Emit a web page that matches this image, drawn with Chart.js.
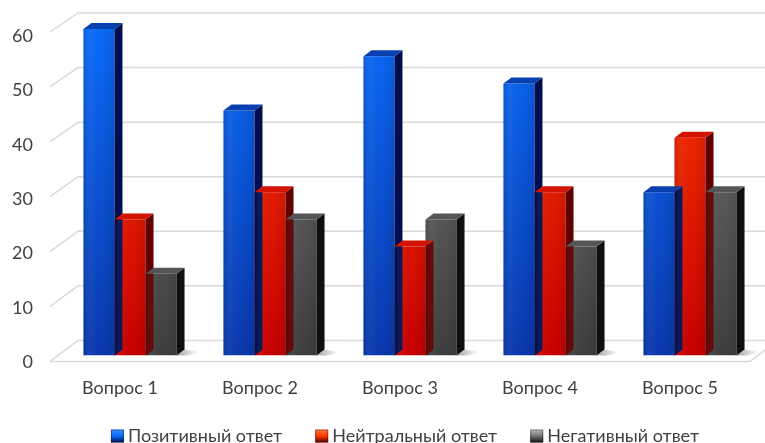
<!DOCTYPE html>
<html>
<head>
<meta charset="utf-8">
<script src="https://cdn.jsdelivr.net/npm/chart.js@4/dist/chart.umd.min.js"></script>
<style>
html,body{margin:0;padding:0;background:#fff;overflow:hidden;}
#box{width:765px;height:443px;position:relative;}
</style>
</head>
<body>
<div id="box"><canvas id="c"></canvas></div>
<script>
const categories = ["Вопрос 1", "Вопрос 2", "Вопрос 3", "Вопрос 4", "Вопрос 5"];
const seriesNames = ["Позитивный ответ", "Нейтральный ответ", "Негативный ответ"];
const positive = [60, 45, 55, 50, 30];
const neutral = [25, 30, 20, 30, 40];
const negative = [15, 25, 25, 20, 30];
const yTicks = [0, 10, 20, 30, 40, 50, 60];

const palettes = [
  {top:'#0a6af8', bot:'#0a38ac', side:'#000a55', cap:'#0a3fb0', light:'#3a90ff', dark:'#00124d'},
  {top:'#ff3800', bot:'#c80000', side:'#6a0000', cap:'#d41200', light:'#ff7a40', dark:'#5a0000'},
  {top:'#757575', bot:'#3e3e3e', side:'#0d0d0d', cap:'#555555', light:'#bcbcbc', dark:'#111111'}
];
const DX = 8, DY = 6;
const FONT = '18px Lato';

function frontGrad(ctx, area, p){
  if(!area) return p.top;
  const g = ctx.createLinearGradient(0, area.top, 0, area.bottom);
  g.addColorStop(0, p.top);
  g.addColorStop(1, p.bot);
  return g;
}

function legendBox(ctx, x, y, p){
  const g = ctx.createLinearGradient(0, y, 0, y + 13);
  g.addColorStop(0, p.light);
  g.addColorStop(0.5, p.top);
  g.addColorStop(1, p.dark);
  ctx.fillStyle = g;
  ctx.fillRect(x, y, 13, 13);
  ctx.strokeStyle = 'rgba(0,0,0,0.35)';
  ctx.lineWidth = 1;
  ctx.strokeRect(x + 0.5, y + 0.5, 12, 12);
}

const gridPlugin = {
  id:'grid3d',
  beforeDatasetsDraw(chart){
    const {ctx, chartArea:a, scales:{y}} = chart;
    ctx.save();
    ctx.strokeStyle = '#d9d9d9';
    ctx.lineWidth = 1.5;
    yTicks.forEach(v=>{
      const py = y.getPixelForValue(v);
      const fy = py + 6 - (v/60)*3;
      const by = py - 15 - (v/60)*1;
      ctx.beginPath();
      ctx.moveTo(a.left - 10, fy);
      ctx.lineTo(a.left + 18, by);
      ctx.lineTo(chart.width + 20, by);
      ctx.stroke();
    });
    const p0 = y.getPixelForValue(0);
    ctx.beginPath();
    ctx.moveTo(a.left - 10, p0 + 6);
    ctx.lineTo(a.right - 10, p0 + 6);
    ctx.lineTo(a.right + 18, p0 - 15);
    ctx.stroke();
    ctx.restore();
  },
  afterDatasetsDraw(chart){
    const ctx = chart.ctx;
    ctx.save();
    const n = chart.data.datasets.length;
    chart.getDatasetMeta(n-1).data.forEach(bar=>{
      const r = bar.x + bar.width/2;
      const g = ctx.createLinearGradient(r, 0, r + 22, 0);
      g.addColorStop(0,'rgba(0,0,0,0.35)');
      g.addColorStop(1,'rgba(0,0,0,0)');
      ctx.fillStyle = g;
      ctx.beginPath();
      ctx.moveTo(r, bar.base);
      ctx.lineTo(r + DX, bar.base - DY);
      ctx.lineTo(r + 24, bar.base - 3);
      ctx.lineTo(r + 10, bar.base);
      ctx.closePath();
      ctx.fill();
    });
    chart.data.datasets.forEach((ds, di)=>{
      const p = palettes[di];
      chart.getDatasetMeta(di).data.forEach(bar=>{
        const l = bar.x - bar.width/2, r = bar.x + bar.width/2, t = bar.y, b = bar.base;
        const sg = ctx.createLinearGradient(r, 0, r + DX, 0);
        sg.addColorStop(0, p.side);
        sg.addColorStop(1, p.dark);
        ctx.fillStyle = sg;
        ctx.beginPath();
        ctx.moveTo(r, t);
        ctx.lineTo(r + DX, t - DY);
        ctx.lineTo(r + DX, b - DY);
        ctx.lineTo(r, b);
        ctx.closePath();
        ctx.fill();
        ctx.fillStyle = p.cap;
        ctx.beginPath();
        ctx.moveTo(l, t);
        ctx.lineTo(l + DX, t - DY);
        ctx.lineTo(r + DX, t - DY);
        ctx.lineTo(r, t);
        ctx.closePath();
        ctx.fill();
        const hg = ctx.createLinearGradient(l, 0, r, 0);
        hg.addColorStop(0,'rgba(0,0,0,0.12)');
        hg.addColorStop(0.25,'rgba(255,255,255,0.04)');
        hg.addColorStop(0.6,'rgba(0,0,0,0)');
        hg.addColorStop(1,'rgba(0,0,0,0.10)');
        ctx.fillStyle = hg;
        ctx.fillRect(l, t, r - l, b - t);
      });
    });
    ctx.restore();
  },
  afterDraw(chart){
    const {ctx, chartArea:a} = chart;
    ctx.save();
    ctx.font = FONT;
    ctx.textBaseline = 'middle';
    ctx.fillStyle = '#404040';
    const names = chart.data.datasets.map(d=>d.label);
    const widths = names.map(t=>13 + 4 + ctx.measureText(t).width);
    const gap = 33;
    const total = widths.reduce((s,w)=>s+w,0) + gap*(names.length-1);
    let x = (a.left + a.right)/2 - 5 - total/2;
    const cy = 436;
    names.forEach((t,i)=>{
      legendBox(ctx, x, cy - 6.5, palettes[i]);
      ctx.fillStyle = '#404040';
      ctx.fillText(t, x + 17, cy);
      x += widths[i] + gap;
    });
    ctx.restore();
  }
};

const values = [positive, neutral, negative];
const datasets = seriesNames.map((name, i)=>({
  label: name,
  data: values[i],
  backgroundColor: (c)=> frontGrad(c.chart.ctx, c.chart.chartArea, palettes[i]),
  borderWidth: 0,
  categoryPercentage: 0.665,
  barPercentage: 1.0
}));

new Chart(document.getElementById('c'), {
  type:'bar',
  data:{labels:categories, datasets},
  plugins:[gridPlugin],
  options:{
    responsive:true,
    maintainAspectRatio:false,
    animation:false,
    layout:{padding:{top:29, right:5, left:0, bottom:22}},
    scales:{
      x:{
        grid:{display:false, drawTicks:false},
        border:{display:false},
        ticks:{color:'#404040', font:{family:'Lato', size:18}, padding:22, labelOffset:-10}
      },
      y:{
        min:0, max:60,
        afterFit(s){ s.width = 60; s.paddingTop = 0; s.paddingBottom = 0; },
        afterBuildTicks(s){ s.ticks = yTicks.map(v=>({value:v})); },
        grid:{display:false, drawTicks:false},
        border:{display:false},
        ticks:{color:'#404040', font:{family:'Lato', size:18}, padding:27, labelOffset:7}
      }
    },
    plugins:{
      tooltip:{enabled:false},
      legend:{display:false}
    }
  }
});
</script>
</body>
</html>
